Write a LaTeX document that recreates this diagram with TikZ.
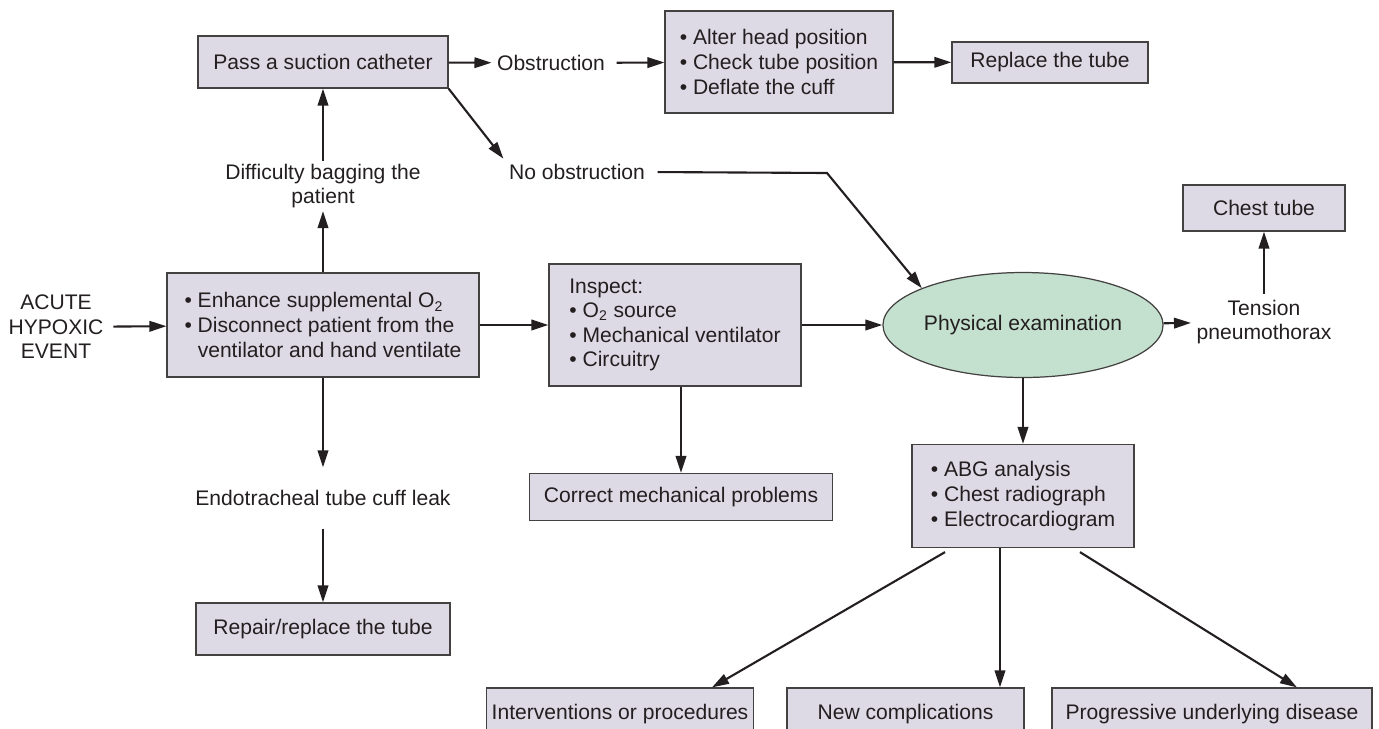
\documentclass[tikz,border=0pt]{standalone}
\usepackage{fontspec}
\setmainfont{Liberation Sans}
\usetikzlibrary{arrows.meta,shapes.geometric}
\definecolor{boxfill}{RGB}{221,218,230}
\definecolor{examfill}{RGB}{196,224,206}
\definecolor{ink}{RGB}{35,31,32}
\tikzset{
  box/.style={draw=ink!85, line width=0.7pt, fill=boxfill, inner sep=0pt, align=left},
  lbl/.style={inner sep=1.5pt, align=center},
  flow/.style={-{Triangle[length=0.34cm,width=0.21cm]}, line width=1.2pt, draw=ink},
}
\begin{document}
\begin{tikzpicture}[x=0.02cm, y=-0.02cm, font=\fontsize{12}{14}\selectfont, text=ink]
  \useasboundingbox (0,0) rectangle (1379,728);
  \node[lbl] (acute) at (56,327) {ACUTE\\HYPOXIC\\EVENT};
  \node[box, minimum width=6.24cm, minimum height=2.08cm] (enh) at (323,325)
    {• Enhance supplemental O\textsubscript{2}\\• Disconnect patient from the\\\phantom{• }ventilator and hand ventilate};
  \node[box, minimum width=5.04cm, minimum height=2.44cm] (insp) at (675,325)
    {Inspect:\\• O\textsubscript{2} source\\• Mechanical ventilator\\• Circuitry};
  \node[ellipse, draw=ink!85, line width=0.7pt, fill=examfill, inner sep=0pt,
    minimum width=5.18cm, minimum height=2.1cm] (exam) at (1023,325) {Physical examination};
  \node[lbl, inner sep=3pt] (tension) at (1264,322) {Tension\\pneumothorax};
  \node[box, minimum width=3.24cm, minimum height=0.92cm] (chest) at (1264,208) {Chest tube};
  \node[lbl] (diff) at (323,186) {Difficulty bagging the\\patient};
  \node[box, minimum width=5.0cm, minimum height=1.04cm] (pass) at (323,62) {Pass a suction catheter};
  \node[lbl, inner sep=3pt] (obstr) at (551,63) {Obstruction};
  \node[box, minimum width=4.56cm, minimum height=2.04cm] (alter) at (779,62)
    {• Alter head position\\• Check tube position\\• Deflate the cuff};
  \node[box, minimum width=3.92cm, minimum height=0.82cm] (replace) at (1050,62.5) {Replace the tube};
  \node[lbl, inner sep=3pt] (noobs) at (577,172) {No obstruction};
  \coordinate (bend) at (827,173);
  \node[lbl, inner ysep=0.45cm] (leak) at (323,498) {Endotracheal tube cuff leak};
  \node[box, minimum width=5.08cm, minimum height=1.04cm] (repair) at (323,629) {Repair/replace the tube};
  \node[box, minimum width=6.06cm, minimum height=0.94cm] (correct) at (681,497) {Correct mechanical problems};
  \node[box, minimum width=4.44cm, minimum height=2.06cm] (abg) at (1023,496)
    {• ABG analysis\\• Chest radiograph\\• Electrocardiogram};
  \node[box, minimum width=5.34cm, minimum height=1.04cm] (interv) at (620,714) {Interventions or procedures};
  \node[box, minimum width=4.74cm, minimum height=1.04cm] (newcomp) at (905.5,714) {New complications};
  \node[box, minimum width=6.4cm, minimum height=1.04cm] (progress) at (1212,714) {Progressive underlying disease};
  \begin{scope}[flow]
    \draw[shorten <=0.14cm] (acute) to (enh);
    \draw (enh) to (insp);
    \draw (insp) to (exam);
    \draw (exam) to (tension);
    \draw (tension) to (chest);
    \draw (enh) to (diff);
    \draw (diff) to (pass);
    \draw (pass) to (obstr);
    \draw[shorten <=0.12cm] (obstr) to (alter);
    \draw (alter) to (replace);
    \draw (pass.south east) to (noobs.north west);
    \draw[shorten <=0.14cm] (noobs.east) -- (bend) -- (exam.160);
    \draw (enh) to (leak);
    \draw (leak) to (repair);
    \draw (insp.south -| correct.north) to (correct.north);
    \draw (exam) to (abg);
    \draw ([xshift=-1.56cm,yshift=-0.08cm]abg.south) to ([xshift=1.84cm]interv.north);
    \draw ([xshift=-0.46cm]abg.south) to ([xshift=-0.46cm]abg.south |- newcomp.north);
    \draw ([xshift=1.14cm,yshift=-0.08cm]abg.south) to ([xshift=1.7cm]progress.north);
  \end{scope}
\end{tikzpicture}
\end{document}
